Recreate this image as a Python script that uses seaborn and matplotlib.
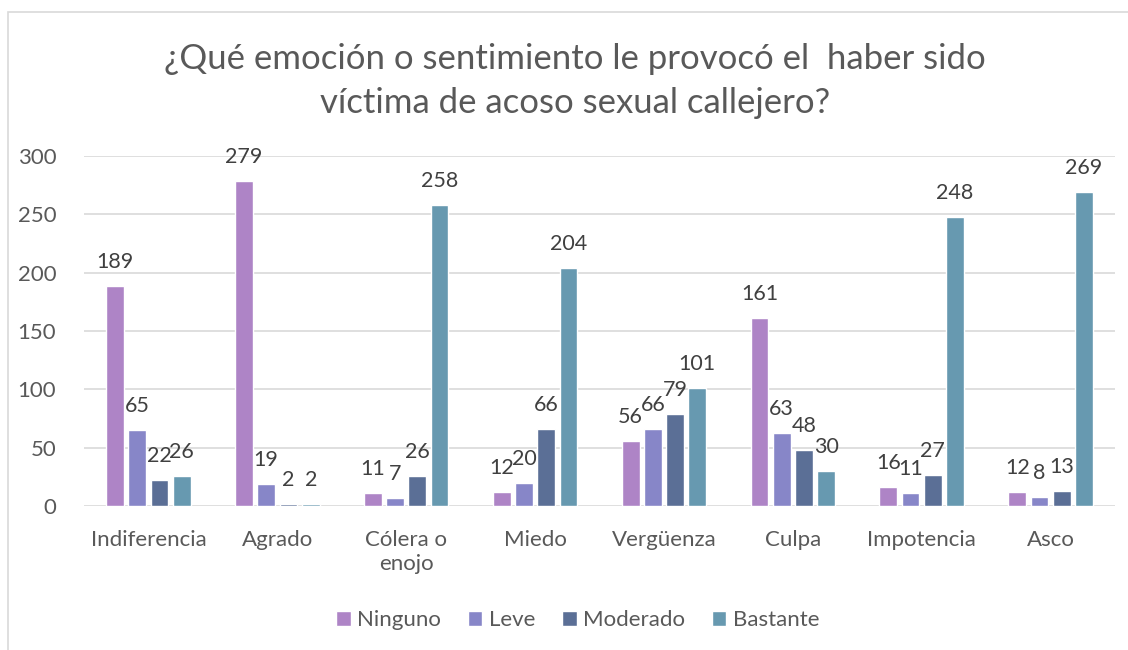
import pandas as pd
import matplotlib.pyplot as plt
from matplotlib.patches import Rectangle
import seaborn as sns

categories = ['Indiferencia', 'Agrado', 'Cólera o\nenojo', 'Miedo', 'Vergüenza',
              'Culpa', 'Impotencia', 'Asco']
levels = ['Ninguno', 'Leve', 'Moderado', 'Bastante']
ninguno = [189, 279, 11, 12, 56, 161, 16, 12]
leve = [65, 19, 7, 20, 66, 63, 11, 8]
moderado = [22, 2, 26, 66, 79, 48, 27, 13]
bastante = [26, 2, 258, 204, 101, 30, 248, 269]
colors = ['#AE84C6', '#8786C8', '#5B6F96', '#6799B0']

series = [ninguno, leve, moderado, bastante]
rows = []
for lvl, vals in zip(levels, series):
    for cat, v in zip(categories, vals):
        rows.append({'categoria': cat, 'nivel': lvl, 'valor': v})
df = pd.DataFrame(rows)

sns.set_style('white')
plt.rcParams['font.family'] = ['Lato', 'DejaVu Sans']

fig = plt.figure(figsize=(11.28, 6.5), dpi=100)
ax = fig.add_axes([0.0745, 0.2215, 0.914, 0.5385])

sns.barplot(data=df, x='categoria', y='valor', hue='nivel', order=categories,
            hue_order=levels, palette=colors, width=0.69, gap=0.2,
            saturation=1, ax=ax, errorbar=None)

for cont in ax.containers:
    ax.bar_label(cont, fmt='%d', padding=10, fontsize=15.5, color='#404040')

ax.set_ylim(0, 300)
ax.set_xlim(-0.5, 7.5)
ax.set_yticks(range(0, 301, 50))
ax.yaxis.grid(True, color='#D9D9D9', linewidth=1.2)
ax.set_axisbelow(True)
for s in ax.spines.values():
    s.set_visible(False)
ax.tick_params(axis='y', length=0, pad=20, labelsize=16, labelcolor='#595959')
ax.tick_params(axis='x', length=0, pad=17, labelsize=16, labelcolor='#595959')
for lbl in ax.get_xticklabels():
    lbl.set_linespacing(1.25)
ax.set_xlabel('')
ax.set_ylabel('')

ax.legend(loc='center', bbox_to_anchor=(0.479, -0.326), ncol=4, frameon=False,
          fontsize=16, labelcolor='#595959', handlelength=0.65, handleheight=0.65,
          handletextpad=0.3, columnspacing=1.2)

fig.text(0.51, 0.875, '¿Qué emoción o sentimiento le provocó el  haber sido\nvíctima de acoso sexual callejero?',
         ha='center', va='center', fontsize=25, color='#595959', linespacing=1.45)

fig.patches.append(Rectangle((8 / 1128, -0.05), 1.2, 1.05 - 12 / 650, transform=fig.transFigure,
                             fill=False, edgecolor='#D9D9D9', linewidth=1.2))

fig.savefig('out.png', dpi=100, facecolor='white')
